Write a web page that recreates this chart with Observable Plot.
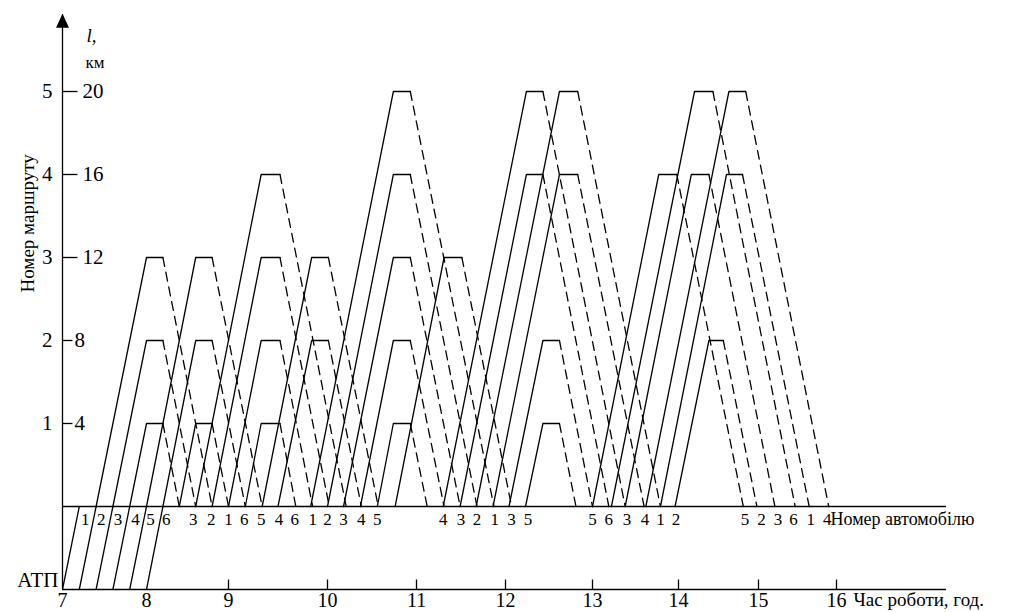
<!DOCTYPE html>
<html><head><meta charset="utf-8">
<script src="https://cdn.jsdelivr.net/npm/d3@7"></script>
<script src="https://cdn.jsdelivr.net/npm/@observablehq/plot@0.6"></script>
<style>
body{margin:0;background:#fff;}
svg, svg text {font-family: "Liberation Serif", "DejaVu Serif", "Times New Roman", serif !important;}
</style>
</head><body><div id="chart"></div>
<script>
// ---- data ----
const hourTicks = [7, 8, 9, 10, 11, 12, 13, 14, 15, 16];
const hourTickMarks = [9, 10, 11, 12, 13, 14, 15, 16];
const routeNumbers = ["1", "2", "3", "4", "5"];
const routeKm = [4, 8, 12, 16, 20];
const atpLevel = -4;            // depot (АТП) row
const axisTop = 23.7;           // end of the arrowed l-axis
const axisEnd = 17.41;          // end of the two horizontal axes

// zero runs: depot -> start of the route line
const zeroRunStart = [7.0, 7.2, 7.4, 7.6, 7.8, 8.0];
const zeroRunEnd   = [7.2, 7.4, 7.6, 7.8, 8.0, 8.2];

// trips: km of route, leave baseline, top start, top end, back on baseline
const tripKm       = [12, 8, 4, 12, 8, 4, 16, 12, 8, 4, 12, 8, 20, 16, 12, 8, 4, 12, 20, 16, 8, 4, 20, 16, 16, 20, 16, 8, 20, 16];
const tripDepart   = [7.4, 7.6, 7.8, 8.0, 8.2, 8.4, 8.6, 8.8, 9.0, 9.17, 9.34, 9.50, 9.83, 10.0, 10.18, 10.37, 10.56, 10.76, 11.30, 11.49, 12.04, 12.23, 11.67, 11.86, 13.00, 13.22, 13.38, 13.96, 13.62, 13.79];
const tripTopStart = [8.0, 8.0, 8.0, 8.6, 8.6, 8.6, 9.33, 9.33, 9.33, 9.33, 9.84, 9.84, 10.74, 10.74, 10.74, 10.74, 10.74, 11.31, 12.24, 12.24, 12.43, 12.43, 12.62, 12.62, 13.77, 14.20, 14.16, 14.38, 14.63, 14.60];
const tripTopEnd   = [8.2, 8.2, 8.2, 8.8, 8.8, 8.8, 9.52, 9.52, 9.52, 9.52, 10.01, 10.01, 10.93, 10.93, 10.93, 10.93, 10.93, 11.51, 12.43, 12.43, 12.62, 12.62, 12.83, 12.83, 13.98, 14.43, 14.38, 14.56, 14.84, 14.80];
const tripReturn   = [8.8, 8.6, 8.4, 9.34, 9.17, 9.0, 10.21, 10.02, 9.85, 9.68, 10.57, 10.38, 11.87, 11.68, 11.49, 11.31, 11.12, 12.07, 13.38, 13.19, 13.00, 12.81, 13.79, 13.60, 14.81, 15.47, 15.21, 14.98, 15.90, 15.65];

// vehicle numbers written along the baseline
const vehicleLabels = ["1","2","3","4","5","6","3","2","1","6","5","4","6","1","2","3","4","5","4","3","2","1","3","5","5","6","3","4","1","2","5","2","3","6","1","4"];
const vehicleLabelTimes = [7.27, 7.46, 7.66, 7.87, 8.05, 8.24, 8.57, 8.79, 9.0, 9.16, 9.33, 9.51, 9.67, 9.85, 10.0, 10.18, 10.38, 10.56, 11.30, 11.50, 11.68, 11.88, 12.07, 12.26, 13.0, 13.19, 13.40, 13.61, 13.79, 13.97, 14.83, 15.04, 15.25, 15.45, 15.67, 15.88];

const yTitle = "Номер маршруту";
const vehicleTitle = "Номер автомобілю";
const timeTitle = "Час роботи, год.";
const depotLabel = "АТП";

// ---- derived tables ----
const solidRows = tripKm.flatMap((km, i) => [
  {trip: i, t: tripDepart[i], km: 0},
  {trip: i, t: tripTopStart[i], km},
  {trip: i, t: tripTopEnd[i], km}
]);
const dashedRows = tripKm.flatMap((km, i) => [
  {trip: i, t: tripTopEnd[i], km},
  {trip: i, t: tripReturn[i], km: 0}
]);

// small symbols for axis ticks and the arrow head
const hTick = len => ({draw(ctx) { ctx.moveTo(0, 0); ctx.lineTo(len, 0); }});
const vTick = len => ({draw(ctx) { ctx.moveTo(0, 0); ctx.lineTo(0, -len); }});
const arrowHead = {draw(ctx) { ctx.moveTo(0, -1); ctx.lineTo(6.5, 13); ctx.lineTo(-6.5, 13); ctx.closePath(); }};

const ink = "black";
const lw = 1.3;
const serif = "Liberation Serif, DejaVu Serif, Times New Roman, serif";

const svg = Plot.plot({
  width: 1021,
  height: 612,
  marginLeft: 62,
  marginRight: 185,
  marginTop: 91,
  marginBottom: 23,
  style: {fontFamily: serif, fontSize: "17px", background: "white", color: "black"},
  x: {type: "linear", domain: hourTicks, range: [62, 146, 228, 327, 416, 505, 592, 678, 758, 836], axis: null},
  y: {type: "linear", domain: [atpLevel, 20], axis: null},
  marks: [
    // axes
    Plot.ruleX([7], {y1: atpLevel, y2: axisTop, stroke: ink, strokeWidth: lw}),
    Plot.dot([7], {x: d => d, y: axisTop, symbol: arrowHead, fill: ink, stroke: "none"}),
    Plot.ruleY([atpLevel], {x1: 7, x2: axisEnd, stroke: ink, strokeWidth: lw}),
    Plot.ruleY([0], {x1: 7, x2: axisEnd, stroke: ink, strokeWidth: lw}),
    Plot.dot(hourTickMarks, {x: d => d, y: atpLevel, symbol: vTick(10), stroke: ink, fill: "none", strokeWidth: lw}),
    Plot.dot(routeKm.filter(k => k <= 8), {x: 7, y: d => d, symbol: hTick(10), stroke: ink, fill: "none", strokeWidth: lw}),
    Plot.dot(routeKm.filter(k => k > 8), {x: 7, y: d => d, symbol: hTick(15), stroke: ink, fill: "none", strokeWidth: lw}),

    // zero runs
    Plot.link(zeroRunStart, {x1: d => d, y1: atpLevel, x2: (d, i) => zeroRunEnd[i], y2: 0, stroke: ink, strokeWidth: lw}),
    // loaded runs + stops (solid), empty runs (dashed)
    Plot.line(solidRows, {x: "t", y: "km", z: "trip", stroke: ink, strokeWidth: lw}),
    Plot.line(dashedRows, {x: "t", y: "km", z: "trip", stroke: ink, strokeWidth: lw, strokeDasharray: "9,6"}),

    // tick labels
    Plot.text(hourTicks, {x: d => d, y: atpLevel, text: d => String(d), dy: 11, fontSize: 20, fontFamily: serif}),
    Plot.text(routeKm, {x: 7, y: d => d, text: (d, i) => routeNumbers[i], textAnchor: "end", dx: -10, fontSize: 21, fontFamily: serif}),
    Plot.text(routeKm.filter(k => k <= 8), {x: 7, y: d => d, text: d => String(d), textAnchor: "start", dx: 12, fontSize: 21, fontFamily: serif}),
    Plot.text(routeKm.filter(k => k > 8), {x: 7, y: d => d, text: d => String(d), textAnchor: "start", dx: 20, fontSize: 21, fontFamily: serif}),
    Plot.text(vehicleLabels, {x: (d, i) => vehicleLabelTimes[i], y: 0, text: d => d, dy: 13, fontSize: 17, fontFamily: serif}),

    // titles
    Plot.text([depotLabel], {x: 7, y: atpLevel, text: d => d, textAnchor: "end", dx: -4, dy: -9, fontSize: 21, fontFamily: serif, ariaLabel: "depot-title"}),
    Plot.text([vehicleTitle], {x: 16, y: 0, text: d => d, textAnchor: "start", dx: -6, dy: 13, fontSize: 18, fontFamily: serif, ariaLabel: "vehicle-title"}),
    Plot.text([timeTitle], {x: 16, y: atpLevel, text: d => d, textAnchor: "start", dx: 17, dy: 10, fontSize: 19, fontFamily: serif, ariaLabel: "time-title"}),
    Plot.text([yTitle], {frameAnchor: "left", text: d => d, rotate: -90, dx: -35, dy: -48, fontSize: 19, fontFamily: serif, ariaLabel: "y-title"}),
    Plot.text(["l,"], {frameAnchor: "top-left", text: d => d, dx: 24, dy: -63, fontSize: 19, fontStyle: "italic", fontFamily: serif}),
    Plot.text(["км"], {frameAnchor: "top-left", text: d => d, dx: 23, dy: -36, fontSize: 17, fontFamily: serif})
  ]
});

const stretch = (label, len) =>
  d3.select(svg).selectAll(`g[aria-label="${label}"] text`)
    .attr("textLength", len).attr("lengthAdjust", "spacingAndGlyphs");
stretch("vehicle-title", 188);
stretch("time-title", 164);
stretch("y-title", 186);
stretch("depot-title", 50);

document.getElementById("chart").appendChild(svg);
</script>
</body></html>
